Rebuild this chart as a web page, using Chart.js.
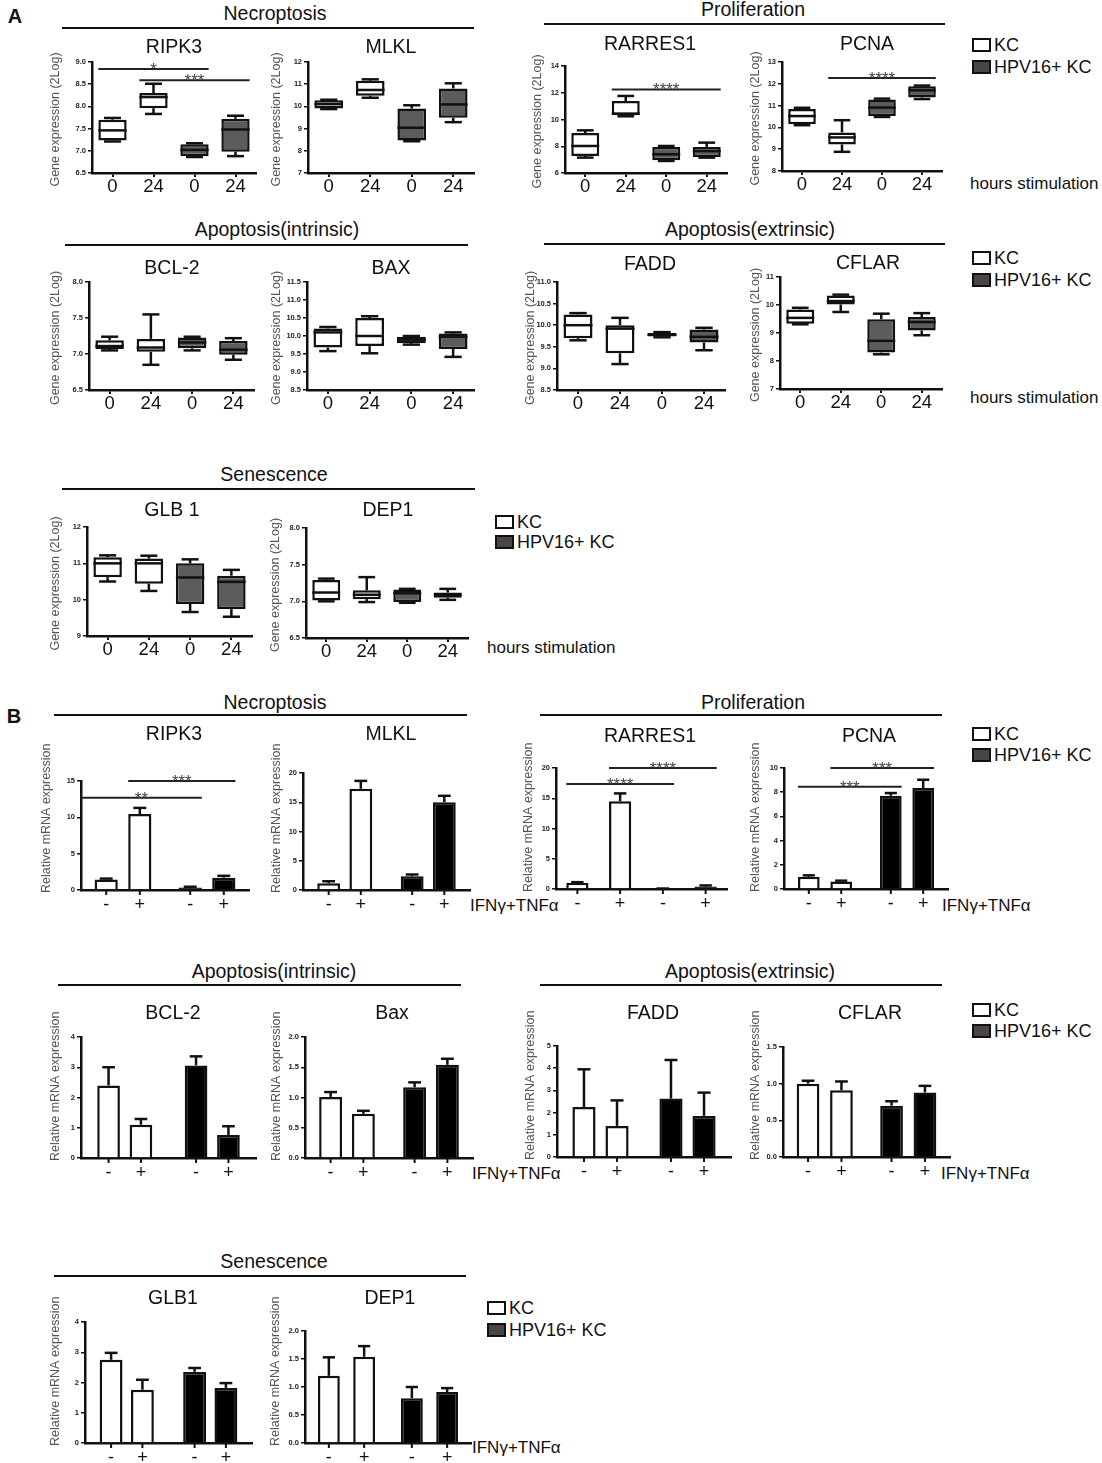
<!DOCTYPE html>
<html><head><meta charset="utf-8">
<script src="https://cdn.jsdelivr.net/npm/chart.js@4.4.1/dist/chart.umd.min.js"></script>
<style>
html,body{margin:0;padding:0;background:#fff;}
body{width:1102px;height:1463px;position:relative;overflow:hidden;font-family:"Liberation Sans",Arial,Helvetica,sans-serif;color:#111;}
.tc{position:absolute;white-space:nowrap;transform:translate(-50%,-50%);line-height:1;}
.tl{position:absolute;white-space:nowrap;transform:translate(0,-50%);line-height:1;}
.hl{position:absolute;height:2px;background:#111;}
.sw{position:absolute;width:19px;height:14px;border:2.5px solid #111;box-sizing:border-box;transform:translate(0,-50%);}
canvas{position:absolute;}
</style></head><body>
<script>
// ================= DATA =================
const hourLabels = ['0', '24', '0', '24'];
const treatLabels = ['-', '+', '-', '+'];
const cellLines = ['KC', 'HPV16+ KC'];
const treatments = ['medium', 'IFNγ+TNFα'];

// Panel A: box statistics per column [min, q1, median, q3, max]  (KC 0h, KC 24h, HPV16+ 0h, HPV16+ 24h)
const aRIPK3   = [[7.21,7.23,7.46,7.70,7.74],[7.83,7.96,8.21,8.30,8.51],[6.86,6.88,7.02,7.15,7.17],[6.88,6.98,7.48,7.72,7.79]];
const aMLKL    = [[9.88,9.90,10.10,10.28,10.30],[10.39,10.48,10.74,11.16,11.22],[8.43,8.46,9.04,9.90,10.05],[9.29,9.49,10.09,10.81,11.04]];
const aRARRES1 = [[7.15,7.27,8.02,8.99,9.19],[10.24,10.31,10.44,11.38,11.76],[6.90,6.95,7.40,7.94,8.02],[7.15,7.20,7.64,7.94,8.27]];
const aPCNA    = [[10.10,10.15,10.52,10.84,10.90],[8.88,9.22,9.54,9.77,10.33],[10.48,10.52,10.91,11.28,11.32],[11.30,11.37,11.70,11.89,11.92]];
const aBCL2    = [[7.05,7.07,7.11,7.19,7.24],[6.85,7.03,7.09,7.21,7.55],[7.05,7.08,7.16,7.23,7.24],[6.92,6.99,7.06,7.18,7.22]];
const aBAX     = [[9.58,9.68,10.10,10.21,10.25],[9.52,9.72,10.00,10.50,10.55],[9.76,9.80,9.90,9.98,10.00],[9.42,9.64,9.98,10.07,10.10]];
const aFADD    = [[9.65,9.70,10.00,10.25,10.28],[9.10,9.35,9.92,10.00,10.17],[9.72,9.74,9.78,9.82,9.84],[9.42,9.60,9.73,9.90,9.94]];
const aCFLAR   = [[9.31,9.33,9.54,9.84,9.90],[9.75,10.02,10.14,10.34,10.37],[8.24,8.30,8.72,9.49,9.69],[8.92,9.09,9.39,9.57,9.71]];
const aGLB1    = [[10.50,10.62,11.00,11.17,11.22],[10.24,10.44,11.00,11.13,11.21],[9.66,9.88,10.61,11.00,11.11],[9.53,9.74,10.49,10.66,10.82]];
const aDEP1    = [[7.00,7.01,7.12,7.29,7.31],[6.99,7.03,7.09,7.15,7.33],[6.98,6.99,7.11,7.16,7.17],[7.02,7.05,7.09,7.12,7.17]];

// Panel A y tick labels
const tA_RIPK3   = ['6.5','7.0','7.5','8.0','8.5','9.0'];
const tA_MLKL    = ['7','8','9','10','11','12'];
const tA_RARRES1 = ['6','8','10','12','14'];
const tA_PCNA    = ['8','9','10','11','12','13'];
const tA_BCL2    = ['6.5','7.0','7.5','8.0'];
const tA_BAX     = ['8.5','9.0','9.5','10.0','10.5','11.0','11.5'];
const tA_FADD    = ['8.5','9.0','9.5','10.0','10.5','11.0'];
const tA_CFLAR   = ['7','8','9','10','11'];
const tA_GLB1    = ['9','10','11','12'];
const tA_DEP1    = ['6.5','7.0','7.5','8.0'];

// significance brackets [from column, to column, level, label, start at axis?]
const sA_RIPK3   = [[0, 2, 8.84, '*'], [1, 3, 8.59, '***']];
const sA_RARRES1 = [[1, 3, 12.25, '****']];
const sA_PCNA    = [[1, 3, 12.27, '****']];

// Panel B: mean and SEM, order KC -, KC +, HPV16+ -, HPV16+ +
const mB_RIPK3   = [1.45, 10.45, 0.35, 1.70];  const eB_RIPK3   = [0.12, 0.85, 0.10, 0.25];
const mB_MLKL    = [1.15, 17.30, 2.35, 15.00]; const eB_MLKL    = [0.35, 1.35, 0.30, 1.10];
const mB_RARRES1 = [1.05, 14.50, 0.05, 0.42];  const eB_RARRES1 = [0.08, 1.30, 0.03, 0.17];
const mB_PCNA    = [1.02, 0.63, 7.70, 8.35];   const eB_PCNA    = [0.11, 0.06, 0.23, 0.68];
const mB_BCL2    = [2.40, 1.10, 3.06, 0.76];   const eB_BCL2    = [0.60, 0.19, 0.30, 0.29];
const mB_BAX     = [1.01, 0.73, 1.17, 1.54];   const eB_BAX     = [0.08, 0.05, 0.08, 0.10];
const mB_FADD    = [2.25, 1.40, 2.63, 1.85];   const eB_FADD    = [1.70, 1.15, 1.74, 1.05];
const mB_CFLAR   = [1.00, 0.91, 0.70, 0.88];   const eB_CFLAR   = [0.04, 0.12, 0.06, 0.09];
const mB_GLB1    = [2.75, 1.76, 2.35, 1.82];   const eB_GLB1    = [0.23, 0.33, 0.13, 0.16];
const mB_DEP1    = [1.20, 1.54, 0.80, 0.91];   const eB_DEP1    = [0.33, 0.19, 0.20, 0.07];

// Panel B y tick labels
const tB_RIPK3   = ['0','5','10','15'];
const tB_MLKL    = ['0','5','10','15','20'];
const tB_RARRES1 = ['0','5','10','15','20'];
const tB_PCNA    = ['0','2','4','6','8','10'];
const tB_BCL2    = ['0','1','2','3','4'];
const tB_BAX     = ['0.0','0.5','1.0','1.5','2.0'];
const tB_FADD    = ['0','1','2','3','4','5'];
const tB_CFLAR   = ['0.0','0.5','1.0','1.5'];
const tB_GLB1    = ['0','1','2','3','4'];
const tB_DEP1    = ['0.0','0.5','1.0','1.5','2.0'];

const sB_RIPK3   = [[0, 2, 12.7, '**', true], [1, 3, 15.0, '***']];
const sB_RARRES1 = [[0, 2, 17.36, '****'], [1, 3, 20.0, '****']];
const sB_PCNA    = [[0, 2, 8.45, '***'], [1, 3, 10.0, '***']];

const genesA = ['RIPK3','MLKL','RARRES1','PCNA','BCL-2','BAX','FADD','CFLAR','GLB 1','DEP1'];
const genesB = ['RIPK3','MLKL','RARRES1','PCNA','BCL-2','Bax','FADD','CFLAR','GLB1','DEP1'];

// ================= LAYOUT / STYLE =================
const F = '"Liberation Sans", Arial, Helvetica, sans-serif';
const XH = 34, LX = 10;
const KC_FILL = '#ffffff', HPV_BOX = '#5c5c5c', HPV_BAR = '#000000', INK = '#111111';

const LAY_A = [
  {ax:92,  r:256, top:62,  bot:173, lx:56,  tx:174, ty:47},
  {ax:308, r:474, top:62,  bot:173, lx:277, tx:391, ty:47},
  {ax:565, r:727, top:66,  bot:173, lx:538, tx:650, ty:44},
  {ax:782, r:942, top:62,  bot:171, lx:756, tx:867, ty:44},
  {ax:89,  r:254, top:282, bot:390, lx:56,  tx:172, ty:268},
  {ax:307, r:474, top:282, bot:390, lx:277, tx:391, ty:268},
  {ax:557, r:725, top:282, bot:390, lx:531, tx:650, ty:264},
  {ax:780, r:942, top:277, bot:389, lx:756, tx:868, ty:263},
  {ax:87,  r:252, top:527, bot:636, lx:56,  tx:172, ty:510},
  {ax:306, r:468, top:528, bot:638, lx:276, tx:388, ty:510}
];
const LAY_B = [
  {ax:81,  r:249, top:781,  bot:890,  lx:47,  tx:174, ty:734,  cp:0.80, bp:0.69},
  {ax:303, r:470, top:773,  bot:890,  lx:277, tx:391, ty:734,  cp:0.77, bp:0.71},
  {ax:556, r:727, top:768,  bot:889,  lx:529, tx:650, ty:736,  cp:1.00, bp:0.52},
  {ax:784, r:948, top:768,  bot:889,  lx:756, tx:869, ty:736,  cp:0.79, bp:0.67},
  {ax:81,  r:256, top:1037, bot:1158, lx:56,  tx:173, ty:1013, cp:0.74, bp:0.70},
  {ax:305, r:473, top:1037, bot:1158, lx:277, tx:392, ty:1013, cp:0.78, bp:0.70},
  {ax:557, r:731, top:1046, bot:1157, lx:531, tx:653, ty:1013, cp:0.76, bp:0.70},
  {ax:783, r:950, top:1047, bot:1157, lx:756, tx:870, ty:1013, cp:0.80, bp:0.68},
  {ax:85,  r:252, top:1322, bot:1443, lx:56,  tx:173, ty:1298, cp:0.75, bp:0.73},
  {ax:305, r:471, top:1331, bot:1443, lx:276, tx:390, ty:1298, cp:0.85, bp:0.62}
];

function text(str, x, y, size, cls, extra) {
  const d = document.createElement('div');
  d.className = cls || 'tc';
  d.textContent = str;
  d.style.left = x + 'px'; d.style.top = y + 'px'; d.style.fontSize = size + 'px';
  if (extra) Object.assign(d.style, extra);
  document.body.appendChild(d);
}
function hline(x1, x2, y) {
  const d = document.createElement('div');
  d.className = 'hl';
  d.style.left = x1 + 'px'; d.style.width = (x2 - x1) + 'px'; d.style.top = (y - 1) + 'px';
  document.body.appendChild(d);
}
function legend(x, y1, y2) {
  [[y1, KC_FILL, cellLines[0]], [y2, '#4a4444', cellLines[1]]].forEach(([y, fill, lab]) => {
    const s = document.createElement('div');
    s.className = 'sw'; s.style.left = x + 'px'; s.style.top = y + 'px'; s.style.background = fill;
    document.body.appendChild(s);
    text(lab, x + 22, y, 18, 'tl');
  });
}

// ================= PLUGIN =================
const extras = {};
const line = (ctx, x1, y1, x2, y2) => { ctx.beginPath(); ctx.moveTo(x1, y1); ctx.lineTo(x2, y2); ctx.stroke(); };
const marks = {
  id: 'marks',
  afterDatasetsDraw(chart) {
    const ex = extras[chart.canvas.id]; if (!ex) return;
    const ctx = chart.ctx, ys = chart.scales.y, py = v => ys.getPixelForValue(v);
    const area = chart.chartArea;
    ctx.save();
    ctx.strokeStyle = INK; ctx.lineWidth = 2.5; ctx.lineCap = 'butt';
    chart.data.datasets.forEach((ds, di) => {
      chart.getDatasetMeta(di).data.forEach((el, i) => {
        const x = el.x, w = el.width;
        if (ds.stats) {
          const [mn, q1, md, q3, mx] = ds.stats[i];
          line(ctx, x, py(q3), x, py(mx)); line(ctx, x - w * 0.3, py(mx), x + w * 0.3, py(mx));
          line(ctx, x, py(q1), x, py(mn)); line(ctx, x - w * 0.3, py(mn), x + w * 0.3, py(mn));
          line(ctx, x - w / 2, py(md), x + w / 2, py(md));
        }
        if (ds.err) {
          const t = py(ds.data[i] + ds.err[i]);
          line(ctx, x, el.y, x, t); line(ctx, x - w * 0.28, t, x + w * 0.28, t);
        }
      });
    });
    const elAt = k => ex.mode === 'A' ? chart.getDatasetMeta(0).data[k] : chart.getDatasetMeta(k % 2).data[Math.floor(k / 2)];
    // significance
    ctx.lineWidth = 2; ctx.strokeStyle = '#222';
    (ex.sig || []).forEach(([i, j, v, lab, fromAxis]) => {
      const a = elAt(i), b = elAt(j), y = py(v);
      const x1 = fromAxis ? area.left : a.x - a.width / 2, x2 = b.x + b.width / 2;
      line(ctx, x1, y, x2, y);
      ctx.fillStyle = '#444'; ctx.font = '17px ' + F; ctx.textAlign = 'center'; ctx.textBaseline = 'alphabetic';
      ctx.fillText(lab, (x1 + x2) / 2, y + 6);
    });
    // treatment ticks for panel B
    if (ex.mode === 'B') {
      const bottom = area.bottom;
      ctx.lineWidth = 2; ctx.strokeStyle = INK; ctx.fillStyle = INK;
      ctx.font = '18px ' + F; ctx.textAlign = 'center'; ctx.textBaseline = 'middle';
      for (let k = 0; k < 4; k++) {
        const el = elAt(k);
        line(ctx, el.x, bottom, el.x, bottom + 5);
        ctx.fillText(treatLabels[k], el.x, bottom + 15);
      }
    }
    // y axis title (drawn without width limit)
    ctx.fillStyle = '#555'; ctx.font = ex.tsize + 'px ' + F; ctx.textBaseline = 'middle';
    ctx.translate(LX, ex.mode === 'A' ? (area.top + area.bottom) / 2 + 2 : area.bottom + 3);
    ctx.rotate(-Math.PI / 2);
    ctx.textAlign = ex.mode === 'A' ? 'center' : 'left';
    ctx.fillText(ex.ytitle, 0, 0);
    ctx.restore();
  }
};

function makeCanvas(id, lay, pt) {
  const left = lay.lx - LX;
  const yw = lay.ax - left;
  const W = Math.ceil(lay.r - left + 6);
  const H = Math.round(lay.bot - lay.top + pt + XH);
  const c = document.createElement('canvas');
  c.id = id; c.width = W; c.height = H;
  c.style.left = left + 'px'; c.style.top = (lay.top - pt) + 'px';
  c.style.width = W + 'px'; c.style.height = H + 'px';
  document.body.appendChild(c);
  return {c, yw, pr: W - yw - (lay.r - lay.ax)};
}

function yScale(ticksLab, yw) {
  const vals = ticksLab.map(parseFloat);
  return {
    min: vals[0], max: vals[vals.length - 1],
    afterBuildTicks: s => { s.ticks = vals.map(v => ({value: v})); },
    ticks: {callback: (v, i) => ticksLab[i], font: {size: 7.5, weight: 'bold', family: F}, color: '#222', padding: 2, autoSkip: false},
    grid: {display: true, drawOnChartArea: false, drawTicks: true, tickLength: 4, color: INK, lineWidth: 1.5},
    border: {display: true, color: INK, width: 2.5},
    afterFit: s => { s.width = yw; }
  };
}

function boxChart(id, lay, stats, ticksLab, sig, gene) {
  const PT = 26;
  const {c, yw, pr} = makeCanvas(id, lay, PT);
  extras[id] = {mode: 'A', sig: sig, ytitle: 'Gene expression (2Log)', tsize: 12.5};
  text(gene, lay.tx, lay.ty, 19.5);
  new Chart(c, {
    type: 'bar',
    data: {labels: hourLabels, datasets: [{
      label: 'box', data: stats.map(s => [s[1], s[3]]), stats: stats,
      backgroundColor: [KC_FILL, KC_FILL, HPV_BOX, HPV_BOX], borderColor: INK, borderWidth: 2.5, borderSkipped: false,
      barPercentage: 0.69, categoryPercentage: 1
    }]},
    options: {
      responsive: false, animation: false, events: [],
      layout: {padding: {top: PT, right: pr, left: 0, bottom: 0}},
      plugins: {legend: {display: false}, tooltip: {enabled: false}},
      scales: {
        x: {
          offset: true,
          grid: {display: true, drawOnChartArea: false, drawTicks: true, tickLength: 4, offset: false, color: INK, lineWidth: 2},
          border: {display: true, color: INK, width: 2.5},
          ticks: {font: {size: 18.5, family: F}, color: INK, padding: -1, maxRotation: 0, autoSkip: false},
          afterFit: s => { s.height = XH; }
        },
        y: yScale(ticksLab, yw)
      }
    },
    plugins: [marks]
  });
}

function barChart(id, lay, means, errs, ticksLab, sig, gene) {
  const PT = 46;
  const {c, yw, pr} = makeCanvas(id, lay, PT);
  extras[id] = {mode: 'B', sig: sig, ytitle: 'Relative mRNA expression', tsize: 12.5};
  text(gene, lay.tx, lay.ty, 19.5);
  const mk = (t) => ({
    label: treatments[t], data: [means[t], means[t + 2]], err: [errs[t], errs[t + 2]],
    backgroundColor: [KC_FILL, HPV_BAR], borderColor: INK, borderWidth: 2.5,
    barPercentage: lay.bp, categoryPercentage: lay.cp
  });
  new Chart(c, {
    type: 'bar',
    data: {labels: cellLines, datasets: [mk(0), mk(1)]},
    options: {
      responsive: false, animation: false, events: [],
      layout: {padding: {top: PT, right: pr, left: 0, bottom: 0}},
      plugins: {legend: {display: false}, tooltip: {enabled: false}},
      scales: {
        x: {
          offset: true,
          grid: {display: false},
          border: {display: true, color: INK, width: 2.5},
          ticks: {display: false},
          afterFit: s => { s.height = XH; }
        },
        y: yScale(ticksLab, yw)
      }
    },
    plugins: [marks]
  });
}

// ================= BUILD =================
text('A', 15, 16, 20, 'tc', {fontWeight: 'bold'});
text('B', 14, 716, 20, 'tc', {fontWeight: 'bold'});

// group headers panel A
text('Necroptosis', 275, 14, 19.5); hline(62, 474, 28);
text('Proliferation', 753, 10, 19.5); hline(544, 945, 24);
text('Apoptosis(intrinsic)', 277, 230, 19.5); hline(65, 468, 245);
text('Apoptosis(extrinsic)', 750, 230, 19.5); hline(544, 945, 244);
text('Senescence', 274, 475, 19.5); hline(62, 475, 489);
// group headers panel B
text('Necroptosis', 275, 703, 19.5); hline(54, 467, 715);
text('Proliferation', 753, 703, 19.5); hline(540, 942, 715);
text('Apoptosis(intrinsic)', 274, 972, 19.5); hline(58, 461, 985);
text('Apoptosis(extrinsic)', 750, 972, 19.5); hline(540, 942, 985);
text('Senescence', 274, 1262, 19.5); hline(54, 466, 1276);

legend(972, 45, 67); legend(972, 258, 280); legend(495, 522, 542);
legend(972, 734, 755); legend(972, 1010, 1031); legend(487, 1308, 1330);
text('hours stimulation', 970, 183, 17, 'tl');
text('hours stimulation', 970, 397, 17, 'tl');
text('hours stimulation', 487, 647, 17, 'tl');
text(treatments[1], 470, 905, 17, 'tl');
text(treatments[1], 942, 905, 17, 'tl');
text(treatments[1], 472, 1173, 17, 'tl');
text(treatments[1], 941, 1173, 17, 'tl');
text(treatments[1], 472, 1447, 17, 'tl');

const A_STATS = [aRIPK3, aMLKL, aRARRES1, aPCNA, aBCL2, aBAX, aFADD, aCFLAR, aGLB1, aDEP1];
const A_TICKS = [tA_RIPK3, tA_MLKL, tA_RARRES1, tA_PCNA, tA_BCL2, tA_BAX, tA_FADD, tA_CFLAR, tA_GLB1, tA_DEP1];
const A_SIG = [sA_RIPK3, [], sA_RARRES1, sA_PCNA, [], [], [], [], [], []];
A_STATS.forEach((s, k) => boxChart('a' + k, LAY_A[k], s, A_TICKS[k], A_SIG[k], genesA[k]));

const B_MEAN = [mB_RIPK3, mB_MLKL, mB_RARRES1, mB_PCNA, mB_BCL2, mB_BAX, mB_FADD, mB_CFLAR, mB_GLB1, mB_DEP1];
const B_ERR = [eB_RIPK3, eB_MLKL, eB_RARRES1, eB_PCNA, eB_BCL2, eB_BAX, eB_FADD, eB_CFLAR, eB_GLB1, eB_DEP1];
const B_TICKS = [tB_RIPK3, tB_MLKL, tB_RARRES1, tB_PCNA, tB_BCL2, tB_BAX, tB_FADD, tB_CFLAR, tB_GLB1, tB_DEP1];
const B_SIG = [sB_RIPK3, [], sB_RARRES1, sB_PCNA, [], [], [], [], [], []];
B_MEAN.forEach((m, k) => barChart('b' + k, LAY_B[k], m, B_ERR[k], B_TICKS[k], B_SIG[k], genesB[k]));
</script>
</body></html>
